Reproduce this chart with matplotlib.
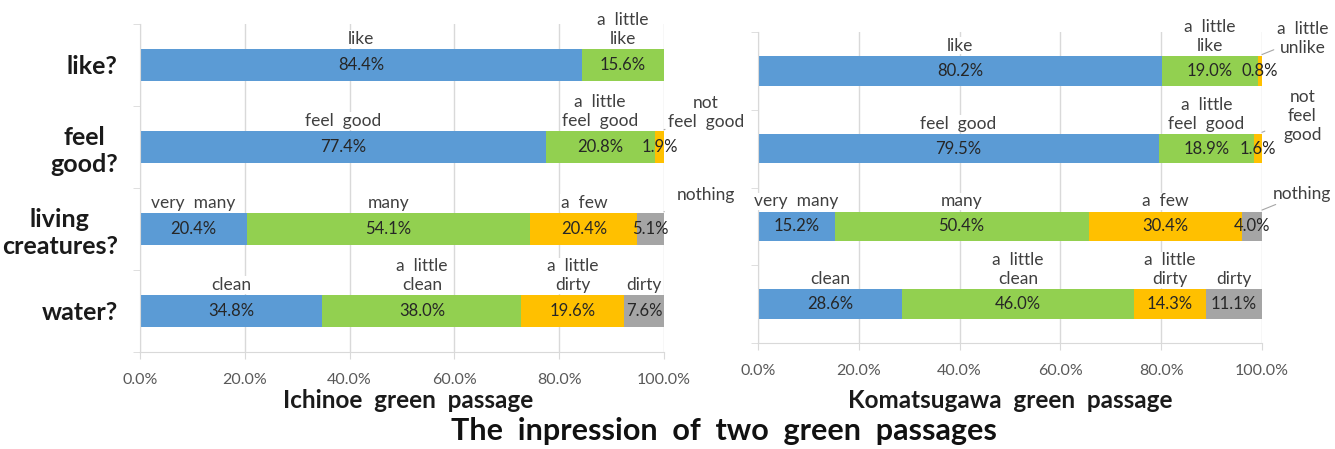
import numpy as np
import matplotlib.pyplot as plt

plt.rcParams['font.family'] = ['Lato', 'DejaVu Sans']

questions = ['like?', 'feel\ngood?', 'living\ncreatures?', 'water?']

ichinoe_answers = [
    ['like', 'a  little\nlike'],
    ['feel  good', 'a  little\nfeel  good', 'not\nfeel  good'],
    ['very  many', 'many', 'a  few', 'nothing'],
    ['clean', 'a  little\nclean', 'a  little\ndirty', 'dirty'],
]
ichinoe_values = [
    [84.4, 15.6],
    [77.4, 20.8, 1.9],
    [20.4, 54.1, 20.4, 5.1],
    [34.8, 38.0, 19.6, 7.6],
]

komatsugawa_answers = [
    ['like', 'a  little\nlike', 'a  little\nunlike'],
    ['feel  good', 'a  little\nfeel  good', 'not\nfeel\ngood'],
    ['very  many', 'many', 'a  few', 'nothing'],
    ['clean', 'a  little\nclean', 'a  little\ndirty', 'dirty'],
]
komatsugawa_values = [
    [80.2, 19.0, 0.8],
    [79.5, 18.9, 1.6],
    [15.2, 50.4, 30.4, 4.0],
    [28.6, 46.0, 14.3, 11.1],
]

colors = ['#5B9BD5', '#92D050', '#FFC000', '#A5A5A5']
bar_h = 0.38


def draw_chart(ax, values, answers, show_questions):
    n = len(values)
    ax.set_xlim(0, 100)
    ax.set_ylim(n - 0.5, -0.5)
    ax.set_xticks(np.arange(0, 101, 20))
    ax.set_xticklabels(['%.1f%%' % t for t in np.arange(0, 101, 20)])
    ax.grid(axis='x', color='#D9D9D9', lw=1, zorder=0)
    ax.set_axisbelow(True)
    for s in ['top', 'right']:
        ax.spines[s].set_visible(False)
    ax.spines['left'].set_color('#D9D9D9')
    ax.spines['bottom'].set_color('#D9D9D9')
    ax.tick_params(axis='x', colors='#D9D9D9', length=5, pad=10,
                   labelcolor='#595959', labelsize=11.5)
    ax.set_yticks(np.arange(n))
    ax.set_yticks(np.arange(n + 1) - 0.5, minor=True)
    ax.tick_params(axis='y', which='major', length=0, pad=16)
    ax.tick_params(axis='y', which='minor', length=5, color='#D9D9D9')
    if show_questions:
        ax.set_yticklabels(questions, fontsize=18, fontweight='bold',
                           color='#1a1a1a', multialignment='center',
                           linespacing=1.2)
    else:
        ax.set_yticklabels([])

    for row, (vals, names) in enumerate(zip(values, answers)):
        left = 0
        for k, (v, name) in enumerate(zip(vals, names)):
            ax.barh(row, v, left=left, height=bar_h, color=colors[k], zorder=2)
            mid = left + v / 2
            ax.text(mid, row, '%.1f%%' % v, ha='center', va='center',
                    fontsize=12, color='#262626', zorder=4)
            last = k == len(vals) - 1
            if last and v < 6:
                # small tail segment: name goes outside with a leader line
                ax.annotate(name, xy=(100, row - bar_h / 2 - 0.02),
                            xytext=(108, row - 0.42), ha='center', va='center',
                            fontsize=12.5, color='#404040', linespacing=1.2,
                            annotation_clip=False,
                            arrowprops=dict(arrowstyle='-', color='#A6A6A6',
                                            lw=0.8, shrinkA=12, shrinkB=0))
            else:
                ax.text(mid, row - bar_h / 2 - 0.03, name, ha='center',
                        va='bottom', fontsize=12.5, color='#404040',
                        linespacing=1.2, zorder=3,
                        bbox=dict(facecolor='white', edgecolor='none', pad=0.5))
            left += v


fig = plt.figure(figsize=(13.35, 4.49), dpi=100)
ax1 = fig.add_axes([140 / 1335, 1 - 352 / 449, 524 / 1335, 328 / 449])
ax2 = fig.add_axes([758 / 1335, 1 - 343 / 449, 504 / 1335, 311 / 449])

draw_chart(ax1, ichinoe_values, ichinoe_answers, True)
draw_chart(ax2, komatsugawa_values, komatsugawa_answers, False)

fig.text(408 / 1335, 1 - 401 / 449, 'Ichinoe  green  passage', ha='center',
         va='center', fontsize=17.5, fontweight='bold', color='#1a1a1a')
fig.text(1010 / 1335, 1 - 400 / 449, 'Komatsugawa  green  passage', ha='center',
         va='center', fontsize=17.5, fontweight='bold', color='#1a1a1a')
fig.text(724 / 1335, 1 - 431 / 449, 'The  inpression  of  two  green  passages',
         ha='center', va='center', fontsize=22, fontweight='bold', color='#111111')

fig.savefig('out.png', dpi=100)
